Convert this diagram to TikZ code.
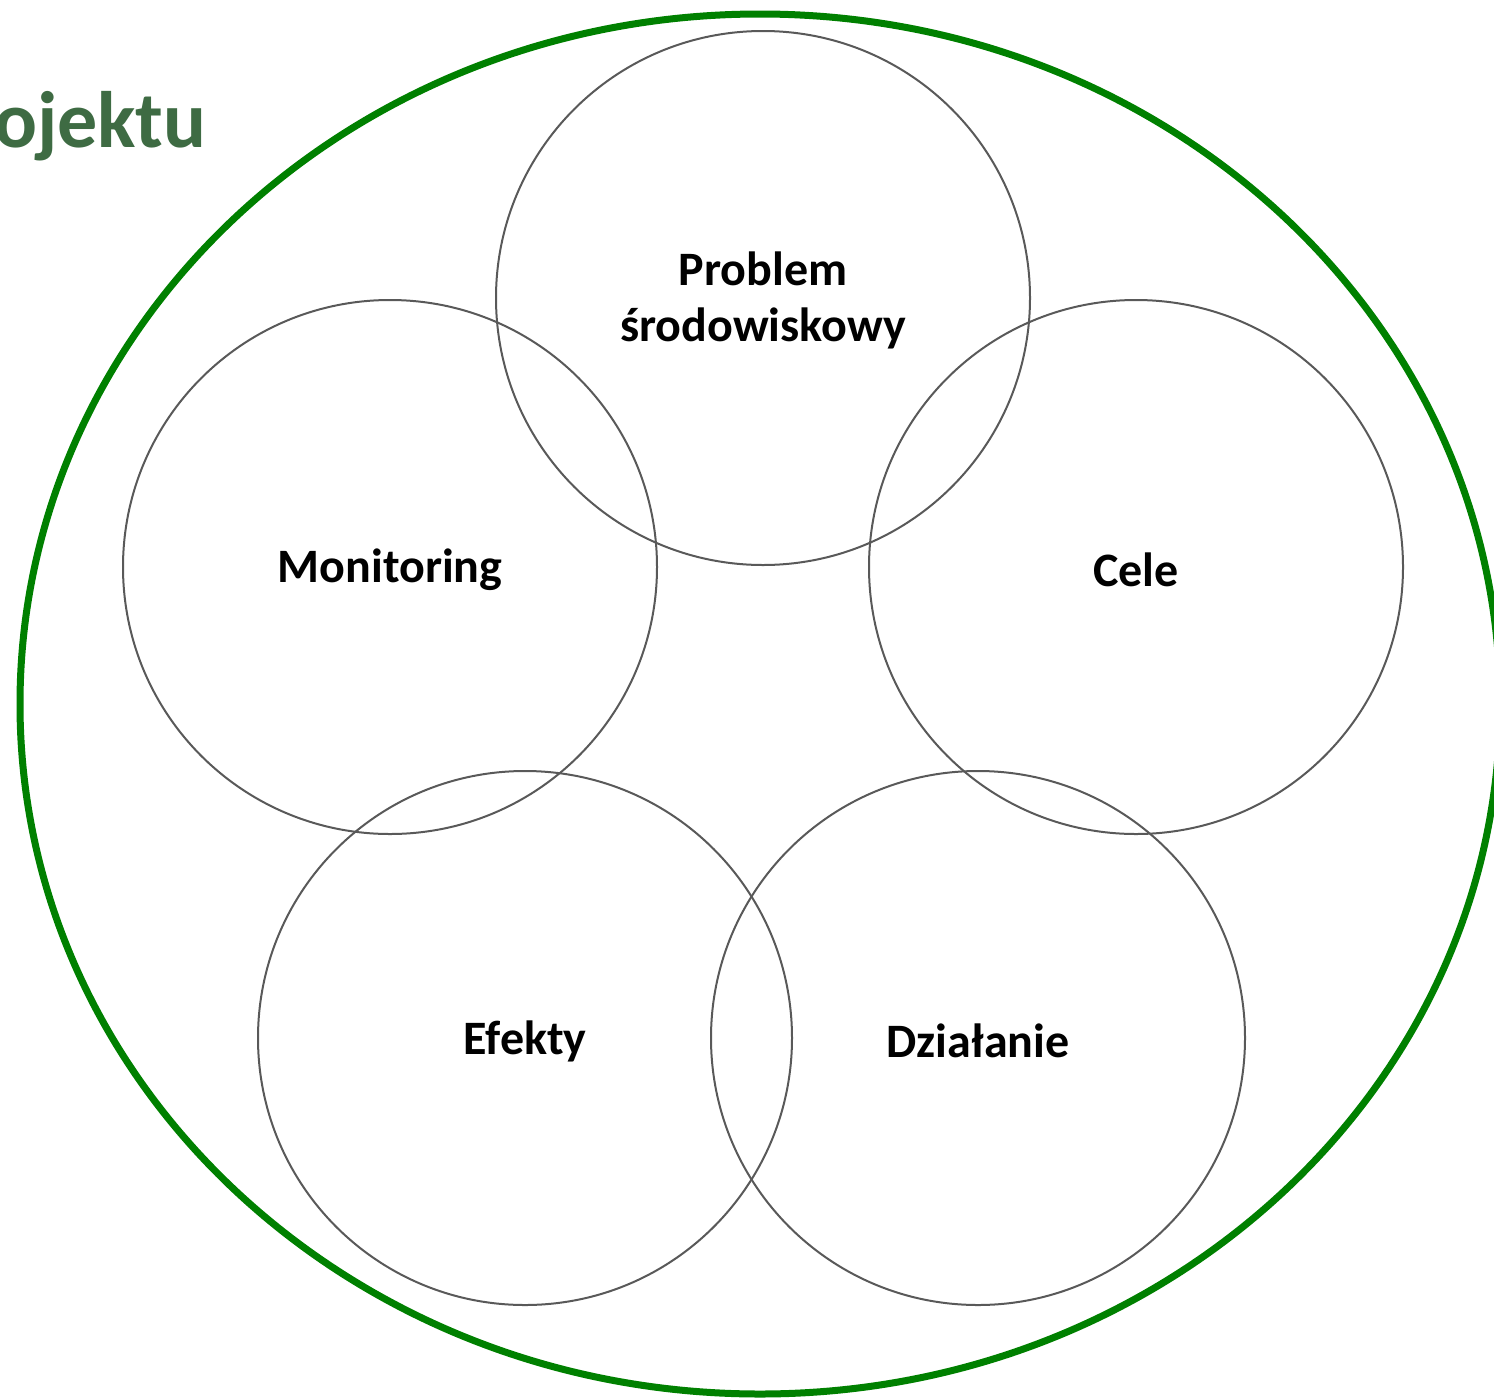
\documentclass[tikz,border=0pt]{standalone}
\usepackage{fontspec}
\setmainfont{Carlito}
\definecolor{outergreen}{HTML}{008000}
\definecolor{titlegreen}{HTML}{3E6B43}
\definecolor{ringgray}{HTML}{595959}
\begin{document}
\begin{tikzpicture}[x=0.5pt,y=-0.5pt,
  ring/.style={circle, draw=ringgray, line width=1pt, minimum size=267pt, inner sep=0pt},
  lbl/.style={font=\fontsize{24}{28}\selectfont\bfseries, align=center, text=black}]
\useasboundingbox (0,0) rectangle (1494,1398);
\draw[outergreen, line width=3.5pt] (760,704) ellipse [x radius=740, y radius=690];
\node[ring] (prob) at (763,298) {};
\node[ring] (mon) at (390,567) {};
\node[ring] (cele) at (1136,567) {};
\node[ring] (efe) at (525,1038) {};
\node[ring] (dzi) at (978,1038) {};
\node[lbl] (tprob) at (763,300) {Problem\\środowiskowy};
\node[lbl] (tmon) at (390,570) {Monitoring};
\node[lbl] (tcele) at (1136,570) {Cele};
\node[lbl] (tefe) at (525,1041) {Efekty};
\node[lbl] (tdzi) at (978,1041) {Działanie};
\node[anchor=base east, inner sep=0pt, text=titlegreen, font=\fontsize{40}{48}\selectfont\bfseries] (title) at (207,147) {ojektu};
\end{tikzpicture}
\end{document}
